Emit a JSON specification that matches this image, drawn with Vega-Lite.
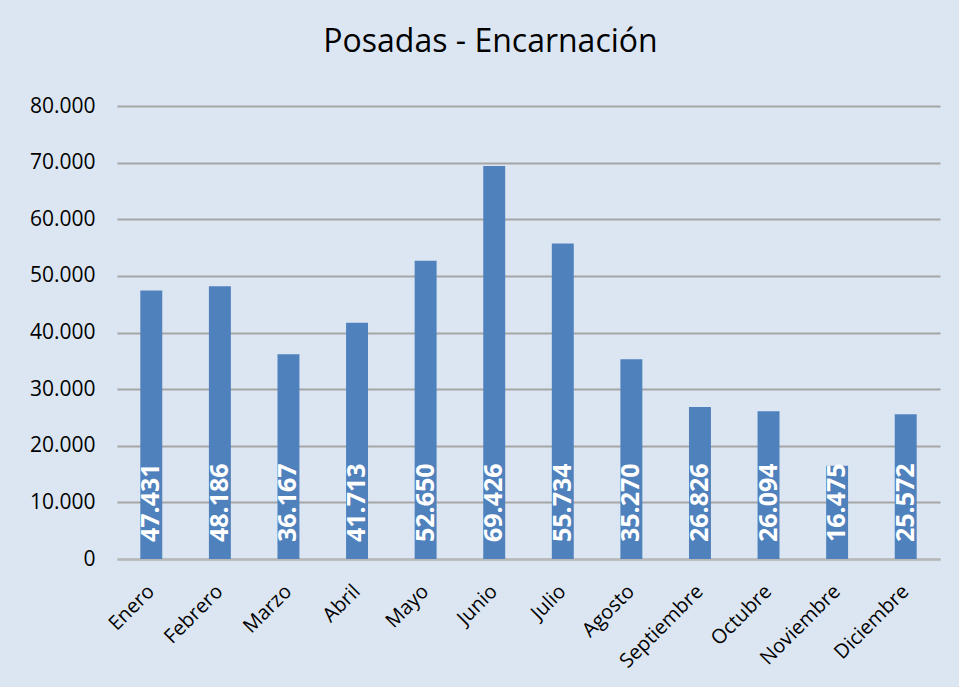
{
  "$schema": "https://vega.github.io/schema/vega-lite/v6.json",
  "autosize": "none",
  "width": 823,
  "height": 453,
  "padding": {"left": 117, "top": 106, "right": 19, "bottom": 128},
  "background": "#dce6f2",
  "config": {
    "locale": {"number": {"decimal": ",", "thousands": ".", "grouping": [3], "currency": ["", ""]}},
    "view": {"stroke": null},
    "font": "Open Sans"
  },
  "title": {
    "text": "Posadas - Encarnación",
    "fontSize": 32,
    "fontWeight": "normal",
    "font": "Open Sans",
    "color": "#000000",
    "anchor": "middle",
    "dx": -38,
    "offset": 36
  },
  "data": {
    "values": [
      {"mes": "Enero", "valor": 47431},
      {"mes": "Febrero", "valor": 48186},
      {"mes": "Marzo", "valor": 36167},
      {"mes": "Abril", "valor": 41713},
      {"mes": "Mayo", "valor": 52650},
      {"mes": "Junio", "valor": 69426},
      {"mes": "Julio", "valor": 55734},
      {"mes": "Agosto", "valor": 35270},
      {"mes": "Septiembre", "valor": 26826},
      {"mes": "Octubre", "valor": 26094},
      {"mes": "Noviembre", "valor": 16475},
      {"mes": "Diciembre", "valor": 25572}
    ]
  },
  "encoding": {
    "x": {
      "field": "mes",
      "type": "nominal",
      "sort": null,
      "scale": {"paddingInner": 0.68, "paddingOuter": 0.34},
      "axis": {
        "title": null,
        "labelAngle": -45,
        "labelAlign": "right",
        "labelBaseline": "middle",
        "labelFontSize": 20,
        "labelColor": "#000000",
        "labelPadding": 29,
        "labelOverlap": false,
        "ticks": false,
        "domainColor": "#b8b8b8",
        "domainWidth": 2
      }
    }
  },
  "layer": [
    {
      "mark": {"type": "bar", "color": "#4f81bd"},
      "encoding": {
        "y": {
          "field": "valor",
          "type": "quantitative",
          "scale": {"domain": [0, 80000]},
          "axis": {
            "title": null,
            "values": [0, 10000, 20000, 30000, 40000, 50000, 60000, 70000, 80000],
            "format": ",d",
            "labelFontSize": 21,
            "labelColor": "#000000",
            "labelPadding": 22,
            "labelOverlap": false,
            "ticks": false,
            "domain": false,
            "gridColor": "#a6a6a6",
            "gridWidth": 2
          }
        }
      }
    },
    {
      "mark": {
        "type": "text",
        "angle": 270,
        "align": "left",
        "baseline": "middle",
        "dx": 17,
        "color": "#ffffff",
        "fontWeight": "bold",
        "fontSize": 25,
        "font": "Open Sans"
      },
      "encoding": {
        "y": {"datum": 0, "type": "quantitative"},
        "text": {"field": "valor", "type": "quantitative", "format": ",d"}
      }
    }
  ]
}
